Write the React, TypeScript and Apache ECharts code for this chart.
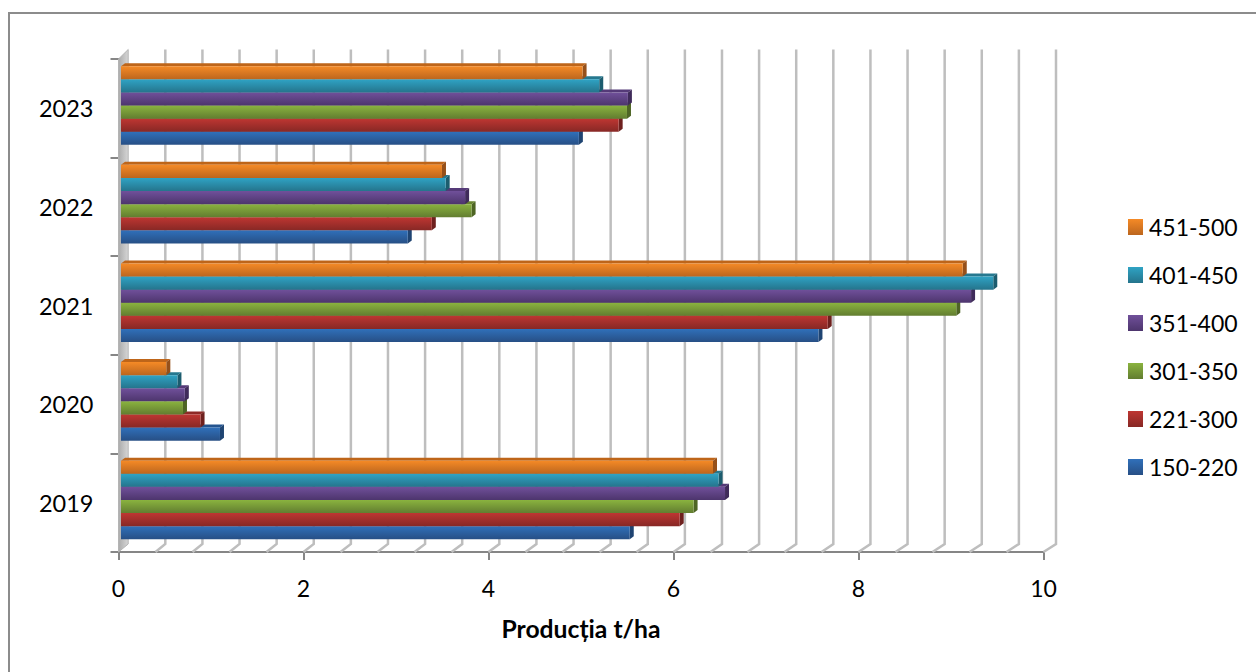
import React, { useEffect, useRef } from "react";
import * as echarts from "echarts";

const years = ["2019", "2020", "2021", "2022", "2023"];
const bandNames = ["150-220", "221-300", "301-350", "351-400", "401-450", "451-500"];

const band150 = [5.5, 1.07, 7.54, 3.1, 4.95];
const band221 = [6.04, 0.86, 7.64, 3.36, 5.38];
const band301 = [6.19, 0.67, 9.03, 3.79, 5.47];
const band351 = [6.53, 0.69, 9.19, 3.72, 5.48];
const band401 = [6.46, 0.61, 9.43, 3.51, 5.17];
const band451 = [6.4, 0.49, 9.1, 3.47, 4.99];
const bandValues = [band150, band221, band301, band351, band401, band451];

// Front light, front dark, top cap, side cap for each band
const palette = [
  ["#3070BA", "#274F85", "#24548F", "#1F4472"],
  ["#BE3632", "#872825", "#8E2A27", "#6E201E"],
  ["#8AB33F", "#627D30", "#67842F", "#4E6524"],
  ["#70509A", "#4D356D", "#553A78", "#3F2B5A"],
  ["#2FA3C4", "#25748C", "#26788F", "#1C5C6E"],
  ["#F58A26", "#BC661E", "#BE6519", "#96501A"],
];

const gridTicks = [
  0.4, 0.8, 1.2, 1.6, 2, 2.4, 2.8, 3.2, 3.6, 4, 4.4, 4.8, 5.2, 5.6, 6, 6.4, 6.8, 7.2, 7.6, 8, 8.4, 8.8, 9.2,
  9.6, 10,
];

const FONT = "Lato, Carlito, 'Open Sans', sans-serif";
const AXIS_GREY = "#868686";
const GRID_GREY = "#BEBEBE";

const vGradient = (top: string, bottom: string) =>
  new echarts.graphic.LinearGradient(0, 0, 0, 1, [
    { offset: 0, color: top },
    { offset: 1, color: bottom },
  ]);

// Back-wall lines of the pseudo-3D plot box, each with its floor diagonal
const renderGridLine = (params: any, api: any) => {
  const v = api.value(0);
  const [x] = api.coord([v, 0]);
  const floorY = params.coordSys.y + params.coordSys.height;
  const topY = params.coordSys.y;
  const backX = x + 9.7 + 0.28 * v;
  return {
    type: "polyline",
    shape: {
      points: [
        [backX, topY - 9.5],
        [backX, floorY - 8],
        [x, floorY],
      ],
    },
    style: { stroke: GRID_GREY, lineWidth: 2.5, fill: "none" },
  };
};

// Grey side wall at the zero end of the value axis
const renderWall = (params: any, api: any) => {
  const [x] = api.coord([0, 0]);
  const topY = params.coordSys.y;
  const floorY = params.coordSys.y + params.coordSys.height;
  const backX = x + 9.7;
  return {
    type: "polygon",
    shape: {
      points: [
        [x, topY],
        [backX, topY - 9.5],
        [backX, floorY - 8],
        [x, floorY],
      ],
    },
    style: {
      fill: new echarts.graphic.LinearGradient(0, 0, 1, 0, [
        { offset: 0, color: "#ABABAB" },
        { offset: 1, color: "#D6D6D6" },
      ]),
      stroke: "#B4B4B4",
      lineWidth: 1,
    },
  };
};

// One extruded horizontal bar: front face, top cap and end cap
const makeBarRenderer = (seriesPos: number) => (_params: any, api: any) => {
  const [xEnd, yMid] = api.coord([api.value(0), api.value(1)]);
  const [xZero] = api.coord([0, api.value(1)]);
  const bandHeight = api.size([0, 1])[1];
  const h = (bandHeight * 0.797) / 6;
  const capX = 4;
  const capY = 3;
  const left = xZero + 2.5;
  const right = xEnd + 2.5;
  const bottom = yMid - 2.75 + 3 * h - seriesPos * h;
  const top = bottom - h;
  const [light, dark, capTop, capSide] = palette[seriesPos];
  return {
    type: "group",
    children: [
      {
        type: "polygon",
        shape: {
          points: [
            [left, top],
            [left + capX, top - capY],
            [right + capX, top - capY],
            [right, top],
          ],
        },
        style: { fill: capTop },
      },
      {
        type: "polygon",
        shape: {
          points: [
            [right, top],
            [right + capX, top - capY],
            [right + capX, bottom - capY],
            [right, bottom],
          ],
        },
        style: { fill: capSide },
      },
      {
        type: "rect",
        shape: { x: left, y: top, width: right - left, height: h },
        style: { fill: vGradient(light, dark) },
      },
    ],
  };
};

export default function App() {
  const ref = useRef<HTMLDivElement>(null);

  useEffect(() => {
    document.body.style.margin = "0";
    const chart = echarts.init(ref.current!, undefined, { renderer: "svg" });
    chart.setOption({
      animation: false,
      backgroundColor: "#FFFFFF",
      graphic: [
        {
          type: "rect",
          silent: true,
          shape: { x: 9, y: 13, width: 1300, height: 720 },
          style: { fill: "none", stroke: "#8C8C8C", lineWidth: 2 },
        },
      ],
      grid: { left: 118.5, top: 59, width: 925, height: 493 },
      xAxis: {
        type: "value",
        min: 0,
        max: 10,
        interval: 2,
        name: "Producția t/ha",
        nameLocation: "middle",
        nameGap: 64,
        nameTextStyle: { fontFamily: FONT, fontWeight: "bold", fontSize: 24.7, color: "#000000" },
        axisLine: { show: true, lineStyle: { color: AXIS_GREY, width: 2 } },
        axisTick: { show: true, length: 8, lineStyle: { color: AXIS_GREY, width: 2 } },
        axisLabel: { fontFamily: FONT, fontSize: 23, color: "#000000", margin: 24 },
        splitLine: { show: false },
      },
      yAxis: {
        type: "category",
        data: years,
        axisLine: { show: true, lineStyle: { color: AXIS_GREY, width: 2 } },
        axisTick: { show: true, length: 8, lineStyle: { color: AXIS_GREY, width: 2 } },
        axisLabel: { fontFamily: FONT, fontSize: 23.5, color: "#000000", margin: 25, lineHeight: 27 },
        splitLine: { show: false },
      },
      legend: {
        orient: "vertical",
        left: 1128,
        top: 215.5,
        padding: 0,
        itemWidth: 15,
        itemHeight: 16,
        itemGap: 25,
        icon: "rect",
        selectedMode: false,
        data: [...bandNames].reverse(),
        textStyle: { fontFamily: FONT, fontSize: 23, color: "#000000", padding: [0, 0, 0, 1] },
      },
      series: [
        {
          type: "custom",
          name: "wall-lines",
          coordinateSystem: "cartesian2d",
          renderItem: renderGridLine,
          data: gridTicks.map((v) => [v, 0]),
          encode: { x: 0, y: 1 },
          silent: true,
          clip: false,
          z: 2,
        },
        {
          type: "custom",
          name: "wall",
          coordinateSystem: "cartesian2d",
          renderItem: renderWall,
          data: [[0, 0]],
          encode: { x: 0, y: 1 },
          silent: true,
          clip: false,
          z: 3,
        },
        ...bandNames.map((name, i) => ({
          type: "custom",
          name,
          coordinateSystem: "cartesian2d",
          renderItem: makeBarRenderer(i),
          data: bandValues[i].map((v, c) => [v, c]),
          encode: { x: 0, y: 1 },
          itemStyle: { color: vGradient(palette[i][0], palette[i][1]) },
          clip: false,
          z: 4,
        })),
      ],
    });
    return () => chart.dispose();
  }, []);

  return <div ref={ref} style={{ width: 1256, height: 672 }} />;
}
